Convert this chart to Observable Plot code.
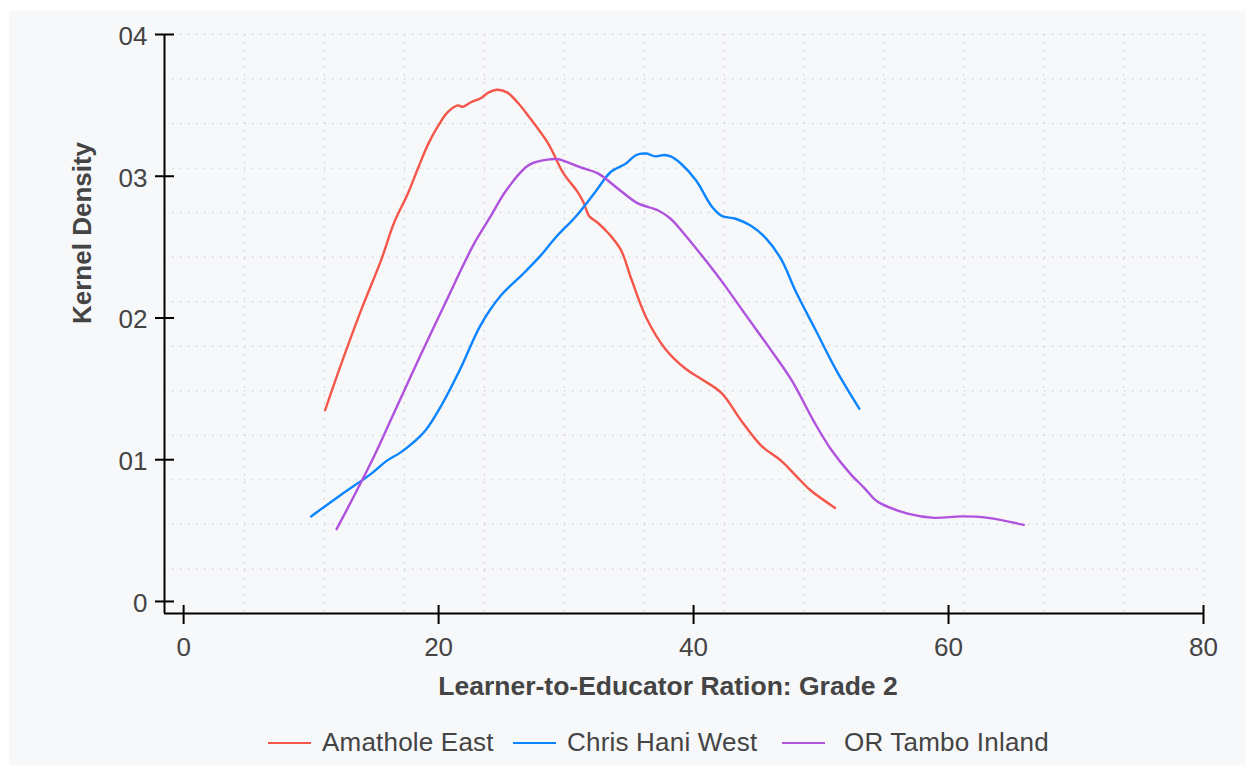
<!DOCTYPE html>
<html>
<head>
<meta charset="utf-8">
<script src="https://cdn.jsdelivr.net/npm/d3@7"></script>
<script src="https://cdn.jsdelivr.net/npm/@observablehq/plot@0.6"></script>
<style>
  html, body { margin: 0; padding: 0; background: #ffffff; }
  #panel { position: absolute; left: 9px; top: 11px; width: 1236px; height: 754px; background: #f7f8fa; overflow: hidden; }
  #chart { position: absolute; left: 0; top: 0; }
  #legend { position: absolute; left: 259px; top: 716px; display: flex; align-items: center; font-family: "Liberation Sans", Arial, Helvetica, sans-serif; font-size: 26px; line-height: 30px; color: #444; white-space: nowrap; letter-spacing: 0.2px; }
  .item { display: flex; align-items: center; }
  .item.i0 { width: 245px; }
  .item.i1 { width: 269px; }
  .sw { width: 43px; height: 2.5px; margin-right: 11px; margin-top: 2px; }
  .item.i2 .sw { margin-right: 19px; }
</style>
</head>
<body>
<div id="panel">
  <div id="chart"></div>
  <div id="legend"></div>
</div>
<script>
// ---- data ----
const seriesNames = ["Amathole East", "Chris Hani West", "OR Tambo Inland"];
const seriesColors = ["#f5564a", "#0a84ff", "#af52de"];

const amatholeX = [11.1, 12.3, 13.9, 15.5, 16.5, 17.6, 18.4, 19.2, 20.0, 20.7, 21.5, 21.9, 22.5, 23.3, 23.9, 24.6, 25.4, 26.2, 27.0, 28.6, 29.8, 30.9, 31.4, 31.8, 32.5, 33.3, 34.3, 35.1, 36.3, 37.8, 39.4, 40.6, 42.2, 43.7, 45.3, 46.9, 48.0, 49.1, 51.1];
const amatholeY = [0.0135, 0.0166, 0.0205, 0.0241, 0.0267, 0.0288, 0.0306, 0.0323, 0.0336, 0.0345, 0.0350, 0.0349, 0.0352, 0.0355, 0.0359, 0.0361, 0.0359, 0.0352, 0.0343, 0.0323, 0.0302, 0.0289, 0.0281, 0.0272, 0.0267, 0.0260, 0.0248, 0.0228, 0.0200, 0.0178, 0.0164, 0.0157, 0.0147, 0.0128, 0.0110, 0.0099, 0.0089, 0.0079, 0.0066];

const chrisX = [10.0, 12.3, 14.7, 15.9, 17.0, 18.0, 19.0, 20.2, 21.7, 23.3, 24.9, 26.5, 28.0, 29.2, 30.8, 32.3, 33.5, 34.7, 35.5, 36.3, 37.0, 37.7, 38.2, 39.0, 40.2, 41.4, 42.2, 43.3, 44.5, 45.7, 46.9, 48.0, 49.6, 51.2, 53.0];
const chrisY = [0.0060, 0.0075, 0.0090, 0.0099, 0.0105, 0.0112, 0.0121, 0.0138, 0.0164, 0.0195, 0.0216, 0.0230, 0.0244, 0.0257, 0.0272, 0.0289, 0.0303, 0.0309, 0.0315, 0.0316, 0.0314, 0.0315, 0.0314, 0.0309, 0.0297, 0.0279, 0.0272, 0.0270, 0.0265, 0.0256, 0.0241, 0.0219, 0.0191, 0.0163, 0.0136];

const tamboX = [12.0, 14.7, 16.5, 18.6, 20.6, 22.7, 24.1, 25.3, 27.1, 28.8, 29.4, 31.2, 32.5, 34.1, 35.6, 37.2, 38.2, 39.2, 40.3, 42.2, 44.1, 46.1, 47.7, 49.5, 50.8, 52.3, 53.4, 54.2, 54.7, 56.8, 58.9, 61.0, 63.1, 65.9];
const tamboY = [0.0051, 0.0098, 0.0133, 0.0174, 0.0212, 0.0251, 0.0272, 0.0290, 0.0308, 0.0312, 0.0312, 0.0306, 0.0302, 0.0291, 0.0281, 0.0276, 0.0270, 0.0260, 0.0248, 0.0226, 0.0202, 0.0177, 0.0156, 0.0126, 0.0107, 0.0090, 0.0080, 0.0072, 0.0069, 0.0062, 0.0059, 0.0060, 0.0059, 0.0054];

const xTicks = [0, 20, 40, 60, 80];
const yTicks = [0, 0.01, 0.02, 0.03, 0.04];
const xLabel = "Learner-to-Educator Ration: Grade 2";
const yLabel = "Kernel Density";

// ---- build table ----
const seriesX = [amatholeX, chrisX, tamboX];
const seriesY = [amatholeY, chrisY, tamboY];
const rows = [];
seriesNames.forEach((name, i) => {
  seriesX[i].forEach((x, j) => rows.push({series: name, x, y: seriesY[i][j]}));
});

const xDomain = [-1.5, 80];
const yDomain = [-0.00085, 0.04];
const gridFrac = d3.range(14).map(k => k / 13);
const gridXs = gridFrac.map(f => xDomain[0] + f * (xDomain[1] - xDomain[0]));
const gridYs = gridFrac.map(f => yDomain[0] + f * (yDomain[1] - yDomain[0]));

const fmtY = d => d === 0 ? "0" : d3.format(".2f")(d).replace("0.", "");
const font = "'Liberation Sans', Arial, Helvetica, sans-serif";

const chart = Plot.plot({
  width: 1236,
  height: 700,
  marginLeft: 155,
  marginRight: 42,
  marginTop: 23,
  marginBottom: 98,
  style: {background: "transparent", fontFamily: font, color: "#444", overflow: "visible"},
  x: {domain: xDomain, axis: null},
  y: {domain: yDomain, axis: null},
  color: {domain: seriesNames, range: seriesColors},
  marks: [
    Plot.ruleX(gridXs, {stroke: "#c4c6ca", strokeWidth: 1, strokeDasharray: "1.5,6.5"}),
    Plot.ruleY(gridYs, {stroke: "#c4c6ca", strokeWidth: 1, strokeDasharray: "1.5,6.5"}),
    Plot.line(rows, {x: "x", y: "y", z: "series", stroke: "series", strokeWidth: 2.4, curve: "catmull-rom"}),
    Plot.ruleX([xDomain[0]], {stroke: "#000", strokeWidth: 2}),
    Plot.ruleY([yDomain[0]], {stroke: "#000", strokeWidth: 2}),
    Plot.axisX(xTicks, {anchor: "bottom", label: null, tickSize: 19, dy: -8, fill: "none", stroke: "#000", strokeWidth: 2}),
    Plot.axisY(yTicks, {anchor: "left", label: null, tickSize: 19, dx: 10, fill: "none", stroke: "#000", strokeWidth: 2}),
    Plot.axisX(xTicks, {anchor: "bottom", label: null, tickSize: 0, tickPadding: 24, fontSize: 26, fill: "#444", tickFormat: d => String(d)}),
    Plot.axisY(yTicks, {anchor: "left", label: null, tickSize: 0, tickPadding: 17, fontSize: 26, fill: "#444", dy: 2, tickFormat: fmtY}),
    Plot.text([xLabel], {frameAnchor: "bottom", text: d => d, dx: -16, dy: 81, lineAnchor: "bottom", fontSize: 26.5, fontWeight: "bold", fill: "#444"}),
    Plot.text([yLabel], {frameAnchor: "left", text: d => d, dx: -74, rotate: -90, lineAnchor: "bottom", fontSize: 26, fontWeight: "bold", fill: "#444"})
  ]
});
document.getElementById("chart").appendChild(chart);

const legend = document.getElementById("legend");
seriesNames.forEach((name, i) => {
  const item = document.createElement("div");
  item.className = "item i" + i;
  const sw = document.createElement("span");
  sw.className = "sw";
  sw.style.background = seriesColors[i];
  const t = document.createElement("span");
  t.textContent = name;
  item.appendChild(sw);
  item.appendChild(t);
  legend.appendChild(item);
});
</script>
</body>
</html>
